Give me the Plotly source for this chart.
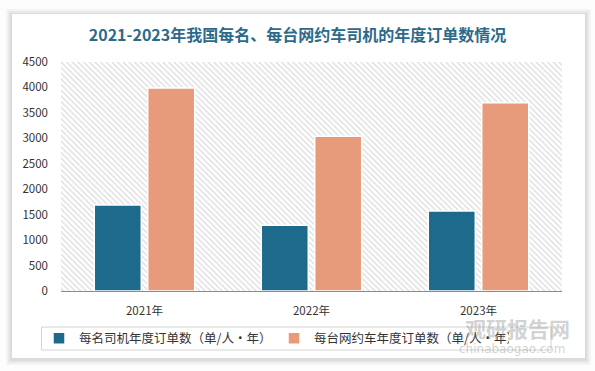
import plotly.graph_objects as go

# ---- data ----
years = ["2021年", "2022年", "2023年"]
per_driver = [1690, 1290, 1570]
per_vehicle = [3990, 3040, 3700]
series_names = ["每名司机年度订单数（单/人·年）", "每台网约车年度订单数（单/人·年）"]
y_ticks = [0, 500, 1000, 1500, 2000, 2500, 3000, 3500, 4000, 4500]
title_text = "2021-2023年我国每名、每台网约车司机的年度订单数情况"

W, H = 595, 371
ML, MR, MT, MB = 61, 33, 62, 80
PW, PH = W - ML - MR, H - MT - MB

def px(x):
    return (x - ML) / PW

def py(y):
    return (H - MB - y) / PH

FONT = "Noto Sans CJK SC, Noto Sans, sans-serif"
BLUE = "#1E6A8D"
ORANGE = "#E89B7B"

fig = go.Figure()

# hatched plot background (base axes)
fig.add_trace(go.Scatter(
    x=[0, 1, 1, 0, 0], y=[0, 0, 1, 1, 0], mode="lines", fill="toself",
    line=dict(width=0, color="rgba(0,0,0,0)"),
    fillcolor="white",
    fillpattern=dict(shape="\\", fgcolor="#bdbdbd", bgcolor="white", size=4, solidity=0.35),
    hoverinfo="skip", showlegend=False, xaxis="x", yaxis="y"))

fig.add_trace(go.Bar(
    x=years, y=per_driver, name=series_names[0], xaxis="x2", yaxis="y2",
    marker=dict(color=BLUE, line=dict(color="white", width=1.5))))
fig.add_trace(go.Bar(
    x=years, y=per_vehicle, name=series_names[1], xaxis="x2", yaxis="y2",
    marker=dict(color=ORANGE, line=dict(color="white", width=1.5))))

shapes = []
# card shadow
for g, op in [(6, 0.035), (4, 0.045), (2, 0.06)]:
    shapes.append(dict(type="rect", xref="paper", yref="paper", layer="below",
                       x0=px(12 - g), x1=px(585 + g), y0=py(358 + g + 1), y1=py(14 - g + 1),
                       line=dict(width=0), fillcolor=f"rgba(0,0,0,{op})"))
shapes.append(dict(type="rect", xref="paper", yref="paper", layer="below",
                   x0=px(12), x1=px(585), y0=py(358), y1=py(14),
                   line=dict(width=0), fillcolor="white"))
# legend box
shapes.append(dict(type="rect", xref="paper", yref="paper", layer="below",
                   x0=px(41.5), x1=px(551), y0=py(350), y1=py(327),
                   line=dict(width=1, color="#d4d4d4"), fillcolor="rgba(0,0,0,0)"))

annotations = [
    dict(text="观研报告网", xref="paper", yref="paper", x=px(517), y=py(328),
         showarrow=False, font=dict(family=FONT, size=21, color="rgba(140,140,140,0.4)", weight="bold"),
         xanchor="center", yanchor="middle"),
    dict(text="chinabaogao.com", xref="paper", yref="paper", x=px(512), y=py(349),
         showarrow=False, font=dict(family="DejaVu Sans", size=12, color="rgba(140,140,140,0.4)"),
         xanchor="center", yanchor="middle"),
]

fig.update_layout(
    width=W, height=H,
    margin=dict(l=ML, r=MR, t=MT, b=MB, autoexpand=False),
    paper_bgcolor="#fdfdfd", plot_bgcolor="rgba(0,0,0,0)",
    title=dict(text=title_text, x=0.5, xref="container", xanchor="center",
               y=1 - 35 / H, yanchor="middle",
               font=dict(family=FONT, size=16, color="#2C6A8C", weight="bold")),
    font=dict(family=FONT, size=11, color="#333333"),
    barmode="group", bargap=0.36, bargroupgap=0.12,
    xaxis=dict(range=[0, 1], visible=False, fixedrange=True),
    yaxis=dict(range=[0, 1], visible=False, fixedrange=True),
    xaxis2=dict(overlaying="x", anchor="y2", showline=True, linecolor="#8c8c8c", linewidth=1,
                ticks="", ticklabelstandoff=9, tickfont=dict(size=11.5, color="#333333"),
                showgrid=False, automargin=False),
    yaxis2=dict(overlaying="y", anchor="x2", range=[0, 4500], tickvals=y_ticks,
                showgrid=False, zeroline=False, showline=False, ticks="",
                ticklabelstandoff=12, tickfont=dict(size=11.5, color="#333333"), automargin=False),
    legend=dict(orientation="h", x=px(274), xanchor="center", y=py(338.5), yanchor="middle",
                font=dict(size=12.5, color="#333333"), bgcolor="rgba(0,0,0,0)",
                entrywidth=190, itemclick=False),
    shapes=shapes, annotations=annotations,
)

fig.write_html("out.html", config={"displayModeBar": False},
               post_script="document.body.style.margin='0';")
